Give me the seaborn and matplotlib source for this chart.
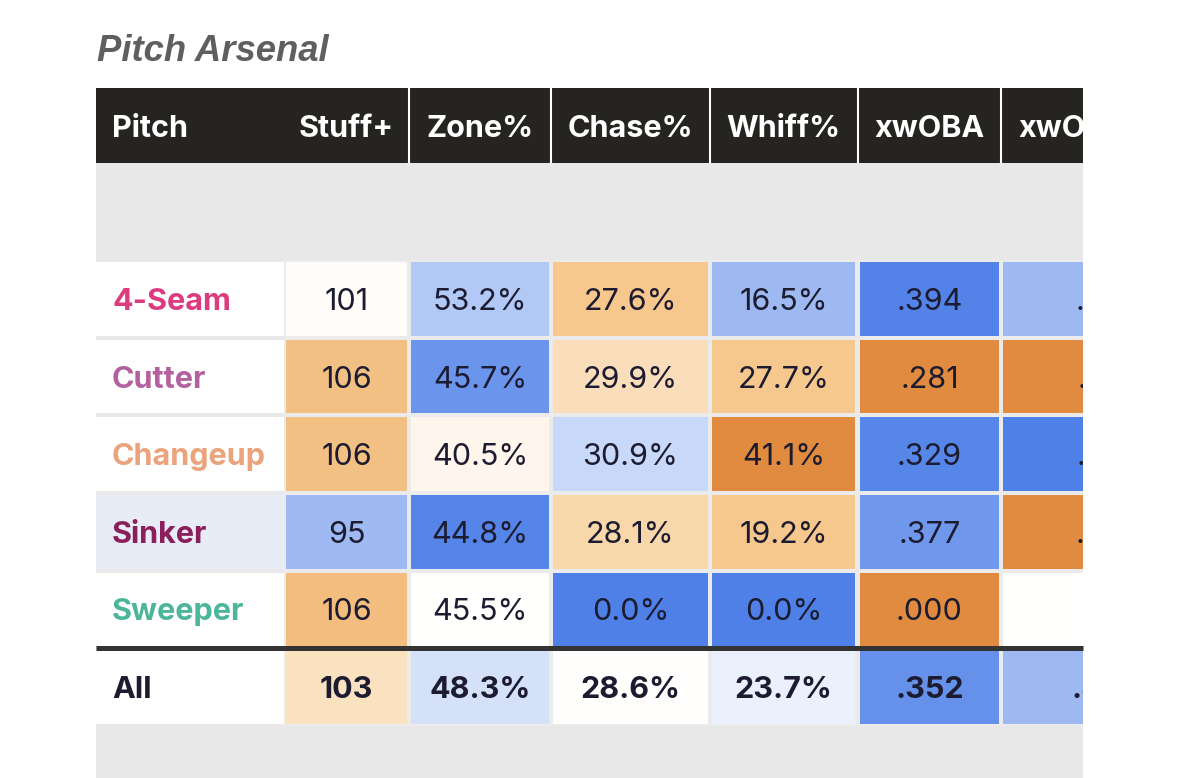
import numpy as np
import pandas as pd
import matplotlib
matplotlib.use("Agg")
import matplotlib.pyplot as plt
from matplotlib.colors import LinearSegmentedColormap
from matplotlib.patches import Rectangle
from matplotlib.transforms import Bbox, TransformedBbox
import seaborn as sns

# ---- data ----
pitches = ["4-Seam", "Cutter", "Changeup", "Sinker", "Sweeper", "All"]
pitch_colors = ["#dc3b80", "#b3629f", "#eaa37b", "#8a1f5b", "#4cb59a", "#1c1b30"]
columns = ["Stuff+", "Zone%", "Chase%", "Whiff%", "xwOBA", "xwOBAcon"]

stuff = [101, 106, 106, 95, 106, 103]
zone = [53.2, 45.7, 40.5, 44.8, 45.5, 48.3]
chase = [27.6, 29.9, 30.9, 28.1, 0.0, 28.6]
whiff = [16.5, 27.7, 41.1, 19.2, 0.0, 23.7]
xwoba = [0.394, 0.281, 0.329, 0.377, 0.000, 0.352]
# last column is cut off in the picture, only the leading dot shows
xwobacon = [0.372, 0.318, 0.401, 0.287, np.nan, 0.349]

# cell shading, -1 = deep blue, 0 = white, 1 = deep orange
stuff_shade = [0.03, 0.57, 0.57, -0.54, 0.60, 0.28]
zone_shade = [-0.43, -0.84, 0.08, -0.96, 0.0, -0.24]
chase_shade = [0.50, 0.30, -0.31, 0.37, -1.0, 0.01]
whiff_shade = [-0.55, 0.50, 1.0, 0.50, -1.0, -0.12]
xwoba_shade = [-0.97, 1.0, -0.95, -0.82, 1.0, -0.86]
xwobacon_shade = [-0.55, 1.0, -1.0, 1.0, 0.0, -0.55]

highlight_row = "Sinker"

# ---- layout (pixels) ----
W, H = 1179, 778
LEFT, RIGHT = 96, 1083
HEAD_TOP, HEAD_BOT = 88, 163
ROWS_TOP, ROWS_BOT = 260, 726
NAME_RIGHT = 286
cell_x = [(286, 407), (411, 549), (553, 708), (712, 855), (860, 999), (1003, 1211)]
header_seps = [408.5, 551, 710, 857.5, 1001]
GAP = 4
GREY = "#e8e8e8"
TEXT = "#1c1b30"
FS = 22  # about 30 px

plt.rcParams["font.family"] = ["Inter", "DejaVu Sans"]

fmt_pct = lambda v: f"{v:.1f}%"
fmt_avg = lambda v: "" if np.isnan(v) else f"{v:.3f}".lstrip("0")

table = pd.DataFrame({
    "Stuff+": stuff, "Zone%": zone, "Chase%": chase, "Whiff%": whiff,
    "xwOBA": xwoba, "xwOBAcon": xwobacon}, index=pitches)
shades = pd.DataFrame({
    "Stuff+": stuff_shade, "Zone%": zone_shade, "Chase%": chase_shade,
    "Whiff%": whiff_shade, "xwOBA": xwoba_shade, "xwOBAcon": xwobacon_shade},
    index=pitches)
formats = {"Stuff+": lambda v: f"{v:.0f}", "Zone%": fmt_pct, "Chase%": fmt_pct,
           "Whiff%": fmt_pct, "xwOBA": fmt_avg, "xwOBAcon": fmt_avg}

cmap = LinearSegmentedColormap.from_list(
    "savant", [(0, "#4f80e8"), (0.5, "#ffffff"), (0.75, "#f6c98e"), (1, "#e08b40")])

fig = plt.figure(figsize=(W / 100, H / 100), dpi=100)
n_rows = len(pitches)
row_h = (ROWS_BOT - ROWS_TOP) / n_rows
row_mid = [ROWS_TOP + (i + 0.5) * row_h for i in range(n_rows)]


def px_axes(x0, y0, x1, y1):
    ax = fig.add_axes([x0 / W, 1 - y1 / H, (x1 - x0) / W, (y1 - y0) / H])
    return ax


# background layer
ax_bg = px_axes(0, 0, W, H)
ax_bg.set_xlim(0, W)
ax_bg.set_ylim(H, 0)
ax_bg.axis("off")
ax_bg.add_patch(Rectangle((LEFT, HEAD_BOT), RIGHT - LEFT, H - HEAD_BOT, color=GREY, lw=0))
name_bg = ["#e8ecf6" if p == highlight_row else "white" for p in pitches]
ax_bg.barh(row_mid, NAME_RIGHT - LEFT, left=LEFT, height=row_h - GAP, color=name_bg, lw=0)

# one heatmap per metric column
for j, col in enumerate(columns):
    x0, x1 = cell_x[j]
    last = j == len(columns) - 1
    ax = px_axes(x0 - GAP / 2, ROWS_TOP, min(x1 + GAP / 2, RIGHT), ROWS_BOT)
    labels = np.array([[formats[col](v)] for v in table[col]])
    sns.heatmap(shades[[col]], ax=ax, cmap=cmap, vmin=-1, vmax=1, cbar=False,
                annot=labels, fmt="", linewidths=GAP * 0.72, linecolor="#ebebeb",
                xticklabels=False, yticklabels=False,
                annot_kws={"fontsize": FS, "color": TEXT, "va": "center_baseline"})
    ax.set_ylabel("")
    ax.set_xlabel("")
    for t in ax.texts:
        if t.get_position()[1] > n_rows - 1:
            t.set_fontweight("bold")
        t.set_clip_on(True)
    if last:
        full = x1 + GAP / 2 - (x0 - GAP / 2)
        ax.set_xlim(0, (RIGHT - (x0 - GAP / 2)) / full)

# foreground layer: header, title, names, divider
ax_fg = px_axes(0, 0, W, H)
ax_fg.set_xlim(0, W)
ax_fg.set_ylim(H, 0)
ax_fg.axis("off")
ax_fg.patch.set_alpha(0)

ax_fg.text(97, 61, "Pitch Arsenal", fontsize=26.3, fontweight="bold", fontstyle="italic",
           family=["Liberation Sans", "DejaVu Sans"], color="#5f5f5f", va="baseline")

ax_fg.add_patch(Rectangle((LEFT, HEAD_TOP), RIGHT - LEFT, HEAD_BOT - HEAD_TOP,
                          color="#262420", lw=0))
ax_fg.vlines(header_seps, HEAD_TOP, HEAD_BOT, colors="white", lw=1.5)
head_clip = TransformedBbox(Bbox([[LEFT, HEAD_TOP], [RIGHT, HEAD_BOT]]), ax_fg.transData)
head_y = (HEAD_TOP + HEAD_BOT) / 2
ax_fg.text(112, head_y, "Pitch", color="white", fontsize=FS, fontweight="bold",
           va="center_baseline")
for j, col in enumerate(columns):
    x0, x1 = cell_x[j]
    if j == len(columns) - 1:
        t = ax_fg.text(x0 + 15, head_y, col, color="white", fontsize=FS,
                       fontweight="bold", va="center_baseline", ha="left")
    else:
        t = ax_fg.text((x0 + x1) / 2, head_y, col, color="white", fontsize=FS,
                       fontweight="bold", va="center_baseline", ha="center")
    t.set_clip_box(head_clip)
    t.set_clip_on(True)

for p, c, y in zip(pitches, pitch_colors, row_mid):
    ax_fg.text(112, y, p, color=c, fontsize=FS, fontweight="bold",
               va="center_baseline", ha="left")

divider_y = ROWS_TOP + (n_rows - 1) * row_h
ax_fg.hlines(divider_y - 0.5, LEFT, RIGHT, colors="#333333", lw=5 * 0.72)

fig.savefig("out.png", dpi=100, facecolor="white")
